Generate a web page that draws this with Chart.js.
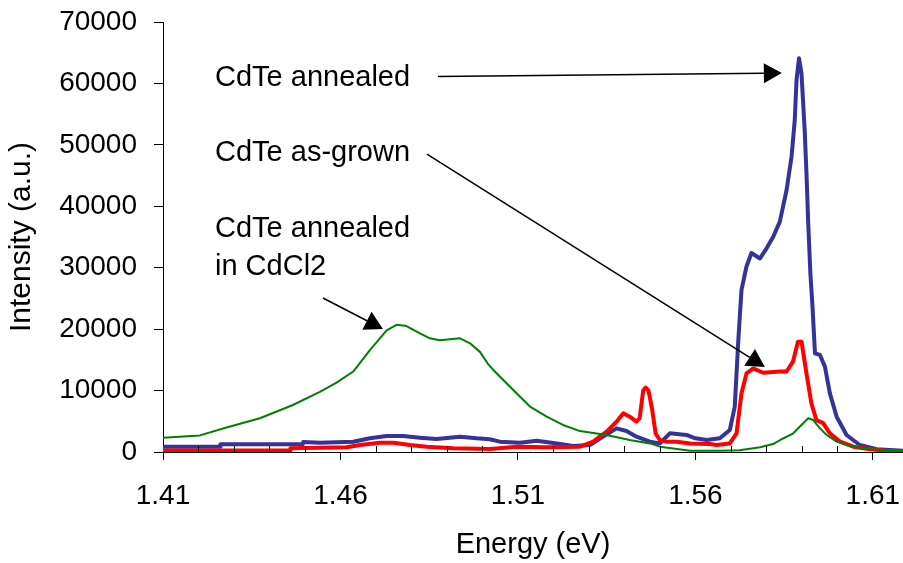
<!DOCTYPE html>
<html>
<head>
<meta charset="utf-8">
<title>CdTe photoluminescence</title>
<script src="https://cdn.jsdelivr.net/npm/chart.js@4.4.1/dist/chart.umd.min.js"></script>
<style>
    html, body { margin: 0; padding: 0; background: #fff; }
    #wrap { width: 903px; height: 563px; position: relative; }
</style>
</head>
<body>
<div id="wrap"><canvas id="plChart"></canvas></div>
<script>
// Spectra: photon energy (eV) and PL intensity (a.u.)
const energyAnnealed = [1.4100, 1.4261, 1.4262, 1.4494, 1.4495, 1.4542, 1.4636, 1.4683, 1.4730, 1.4776, 1.4824, 1.4871, 1.4937, 1.4984, 1.5021, 1.5049, 1.5106, 1.5153, 1.5210, 1.5256, 1.5303, 1.5340, 1.5378, 1.5406, 1.5434, 1.5472, 1.5500, 1.5528, 1.5575, 1.5600, 1.5632, 1.5669, 1.5697, 1.5711, 1.5721, 1.5730, 1.5744, 1.5758, 1.5782, 1.5801, 1.5819, 1.5838, 1.5857, 1.5871, 1.5880, 1.5885, 1.5892, 1.5899, 1.5908, 1.5913, 1.5918, 1.5924, 1.5930, 1.5937, 1.5951, 1.5965, 1.5979, 1.5998, 1.6026, 1.6063, 1.6111, 1.6185];
const intensityAnnealed = [870, 870, 1250, 1250, 1630, 1500, 1680, 2230, 2600, 2600, 2330, 2100, 2500, 2230, 2070, 1680, 1510, 1840, 1400, 980, 1140, 2500, 3850, 3420, 2500, 1680, 1400, 3040, 2770, 2230, 1950, 2230, 3580, 7400, 18200, 26400, 30200, 32400, 31500, 33200, 35000, 37500, 42650, 48100, 54000, 60560, 64100, 61650, 52400, 45400, 37200, 29100, 23650, 16070, 15800, 13900, 9550, 5750, 2770, 1140, 440, 200];

const energyAsGrown = [1.4100, 1.4458, 1.4459, 1.4617, 1.4655, 1.4711, 1.4749, 1.4796, 1.4843, 1.4918, 1.5021, 1.5096, 1.5181, 1.5275, 1.5312, 1.5350, 1.5378, 1.5397, 1.5415, 1.5434, 1.5443, 1.5453, 1.5460, 1.5468, 1.5478, 1.5488, 1.5500, 1.5519, 1.5547, 1.5585, 1.5641, 1.5660, 1.5697, 1.5716, 1.5730, 1.5744, 1.5763, 1.5791, 1.5838, 1.5857, 1.5875, 1.5889, 1.5899, 1.5913, 1.5927, 1.5941, 1.5960, 1.5979, 1.6008, 1.6045, 1.6092, 1.6139, 1.6185];
const intensityAsGrown = [250, 250, 600, 760, 1140, 1500, 1500, 1140, 870, 600, 500, 870, 760, 870, 1680, 3300, 4930, 6300, 5750, 4930, 5500, 10000, 10500, 10000, 7000, 3000, 1950, 1680, 1680, 1400, 1300, 1140, 1400, 3040, 9550, 12800, 13600, 12900, 13100, 13100, 14700, 17960, 17960, 12800, 7900, 5200, 4700, 3040, 1680, 870, 440, 200, 100];

const energyCdCl2 = [1.4100, 1.4204, 1.4279, 1.4373, 1.4466, 1.4542, 1.4589, 1.4636, 1.4683, 1.4730, 1.4758, 1.4786, 1.4824, 1.4852, 1.4880, 1.4937, 1.4965, 1.4993, 1.5015, 1.5030, 1.5087, 1.5134, 1.5181, 1.5227, 1.5275, 1.5350, 1.5415, 1.5472, 1.5500, 1.5575, 1.5585, 1.5669, 1.5725, 1.5782, 1.5819, 1.5847, 1.5875, 1.5894, 1.5918, 1.5932, 1.5951, 1.5970, 1.5998, 1.6035, 1.6092, 1.6185];
const intensityCdCl2 = [2300, 2700, 4000, 5500, 7650, 9800, 11300, 13100, 16600, 19800, 20700, 20500, 19300, 18500, 18200, 18500, 17700, 16300, 14400, 13400, 10100, 7400, 5750, 4400, 3400, 2770, 1950, 1400, 870, 300, 200, 200, 300, 760, 1300, 2200, 3000, 4100, 5500, 5200, 3850, 2770, 1700, 980, 440, 200];

// Axis ticks
const energyTicks = [1.41, 1.46, 1.51, 1.56, 1.61];
const energyMinorTicks = [1.42, 1.43, 1.44, 1.45, 1.47, 1.48, 1.49, 1.50, 1.52, 1.53, 1.54, 1.55, 1.57, 1.58, 1.59, 1.60];
const intensityTicks = [0, 10000, 20000, 30000, 40000, 50000, 60000, 70000];

// Callouts: text lines with baselines, plus arrow from -> to (data coordinates)
const calloutText = [
    { text: 'CdTe annealed', x: 1.42465, y: 59580 },
    { text: 'CdTe as-grown', x: 1.42465, y: 47370 },
    { text: 'CdTe annealed', x: 1.42465, y: 35000 },
    { text: 'in CdCl2', x: 1.42465, y: 28810 }
];
const calloutArrows = [
    { from: [1.48746, 61130], to: [1.58437, 61700] },
    { from: [1.48437, 48510], to: [1.57958, 13840] },
    { from: [1.45507, 25070], to: [1.47197, 20020] }
];

const FONT = '"Liberation Sans", Arial, sans-serif';

function toPoints(xs, ys) {
    return xs.map((x, i) => ({ x: x, y: ys[i] }));
}

// Minor ticks on the energy axis point up into the plot
const minorTickPlugin = {
    id: 'minorTicks',
    afterDraw(chart) {
        const ctx = chart.ctx;
        const xScale = chart.scales.x;
        const bottom = chart.chartArea.bottom;
        ctx.save();
        ctx.strokeStyle = '#000';
        ctx.lineWidth = 1;
        ctx.beginPath();
        energyMinorTicks.forEach(v => {
            const px = Math.round(xScale.getPixelForValue(v)) + 0.5;
            ctx.moveTo(px, bottom);
            ctx.lineTo(px, bottom - 6);
        });
        ctx.stroke();
        ctx.restore();
    }
};

function drawArrow(ctx, x1, y1, x2, y2) {
    const ang = Math.atan2(y2 - y1, x2 - x1);
    const headLen = 18;
    const headHalf = 10;
    const bx = x2 - headLen * Math.cos(ang);
    const by = y2 - headLen * Math.sin(ang);
    ctx.beginPath();
    ctx.moveTo(x1, y1);
    ctx.lineTo(bx, by);
    ctx.stroke();
    ctx.beginPath();
    ctx.moveTo(x2, y2);
    ctx.lineTo(bx + headHalf * Math.sin(ang), by - headHalf * Math.cos(ang));
    ctx.lineTo(bx - headHalf * Math.sin(ang), by + headHalf * Math.cos(ang));
    ctx.closePath();
    ctx.fill();
}

const calloutPlugin = {
    id: 'callouts',
    afterDraw(chart) {
        const ctx = chart.ctx;
        const xs = chart.scales.x;
        const ys = chart.scales.y;
        ctx.save();
        ctx.fillStyle = '#000';
        ctx.strokeStyle = '#000';
        ctx.lineWidth = 1.5;
        ctx.font = '29px ' + FONT;
        ctx.textAlign = 'left';
        ctx.textBaseline = 'alphabetic';
        calloutText.forEach(t => {
            ctx.fillText(t.text, xs.getPixelForValue(t.x), ys.getPixelForValue(t.y));
        });
        calloutArrows.forEach(a => {
            drawArrow(ctx,
                xs.getPixelForValue(a.from[0]), ys.getPixelForValue(a.from[1]),
                xs.getPixelForValue(a.to[0]), ys.getPixelForValue(a.to[1]));
        });
        ctx.restore();
    }
};

const whiteBackground = {
    id: 'whiteBackground',
    beforeDraw(chart) {
        const ctx = chart.ctx;
        ctx.save();
        ctx.fillStyle = '#fff';
        ctx.fillRect(0, 0, chart.width, chart.height);
        ctx.restore();
    }
};

document.addEventListener('DOMContentLoaded', function() {
    const ctx = document.getElementById('plChart').getContext('2d');
    new Chart(ctx, {
        type: 'line',
        data: {
            datasets: [
                {
                    label: 'CdTe annealed in CdCl2',
                    data: toPoints(energyCdCl2, intensityCdCl2),
                    borderColor: '#008000',
                    borderWidth: 2
                },
                {
                    label: 'CdTe as-grown',
                    data: toPoints(energyAsGrown, intensityAsGrown),
                    borderColor: '#ff0000',
                    borderWidth: 4
                },
                {
                    label: 'CdTe annealed',
                    data: toPoints(energyAnnealed, intensityAnnealed),
                    borderColor: '#333399',
                    borderWidth: 4
                }
            ]
        },
        options: {
            responsive: true,
            maintainAspectRatio: false,
            animation: false,
            elements: {
                point: { radius: 0 },
                line: { tension: 0, borderJoinStyle: 'round', fill: false }
            },
            layout: { padding: { top: 22, right: 0, bottom: 0, left: 0 } },
            plugins: {
                legend: { display: false },
                tooltip: { enabled: false }
            },
            scales: {
                x: {
                    type: 'linear',
                    min: 1.41,
                    max: 1.6185,
                    afterBuildTicks: function(scale) {
                        scale.ticks = energyTicks.map(v => ({ value: v }));
                    },
                    afterFit: function(scale) {
                        scale.height = 111;
                        scale.paddingLeft = 0;
                        scale.paddingRight = 0;
                    },
                    grid: { drawOnChartArea: false, tickLength: 8, color: '#000', lineWidth: 1 },
                    border: { display: true, color: '#000', width: 1 },
                    ticks: {
                        padding: 19,
                        color: '#000',
                        maxRotation: 0,
                        autoSkip: false,
                        font: { family: FONT, size: 28 },
                        callback: v => Number(v).toFixed(2)
                    },
                    title: {
                        display: true,
                        text: 'Energy (eV)',
                        color: '#000',
                        font: { family: FONT, size: 29 },
                        padding: { top: 0, bottom: 1 }
                    }
                },
                y: {
                    min: 0,
                    max: 70000,
                    afterBuildTicks: function(scale) {
                        scale.ticks = intensityTicks.map(v => ({ value: v }));
                    },
                    afterFit: function(scale) {
                        scale.width = 163;
                        scale.paddingTop = 0;
                        scale.paddingBottom = 0;
                    },
                    grid: { drawOnChartArea: false, tickLength: 9, color: '#000', lineWidth: 1 },
                    border: { display: true, color: '#000', width: 1 },
                    ticks: {
                        padding: 17,
                        color: '#000',
                        font: { family: FONT, size: 28 },
                        callback: v => String(v)
                    },
                    title: {
                        display: true,
                        text: 'Intensity (a.u.)',
                        color: '#000',
                        font: { family: FONT, size: 30 },
                        padding: { top: 4, bottom: 0 }
                    }
                }
            }
        },
        plugins: [whiteBackground, minorTickPlugin, calloutPlugin]
    });
});
</script>
</body>
</html>
